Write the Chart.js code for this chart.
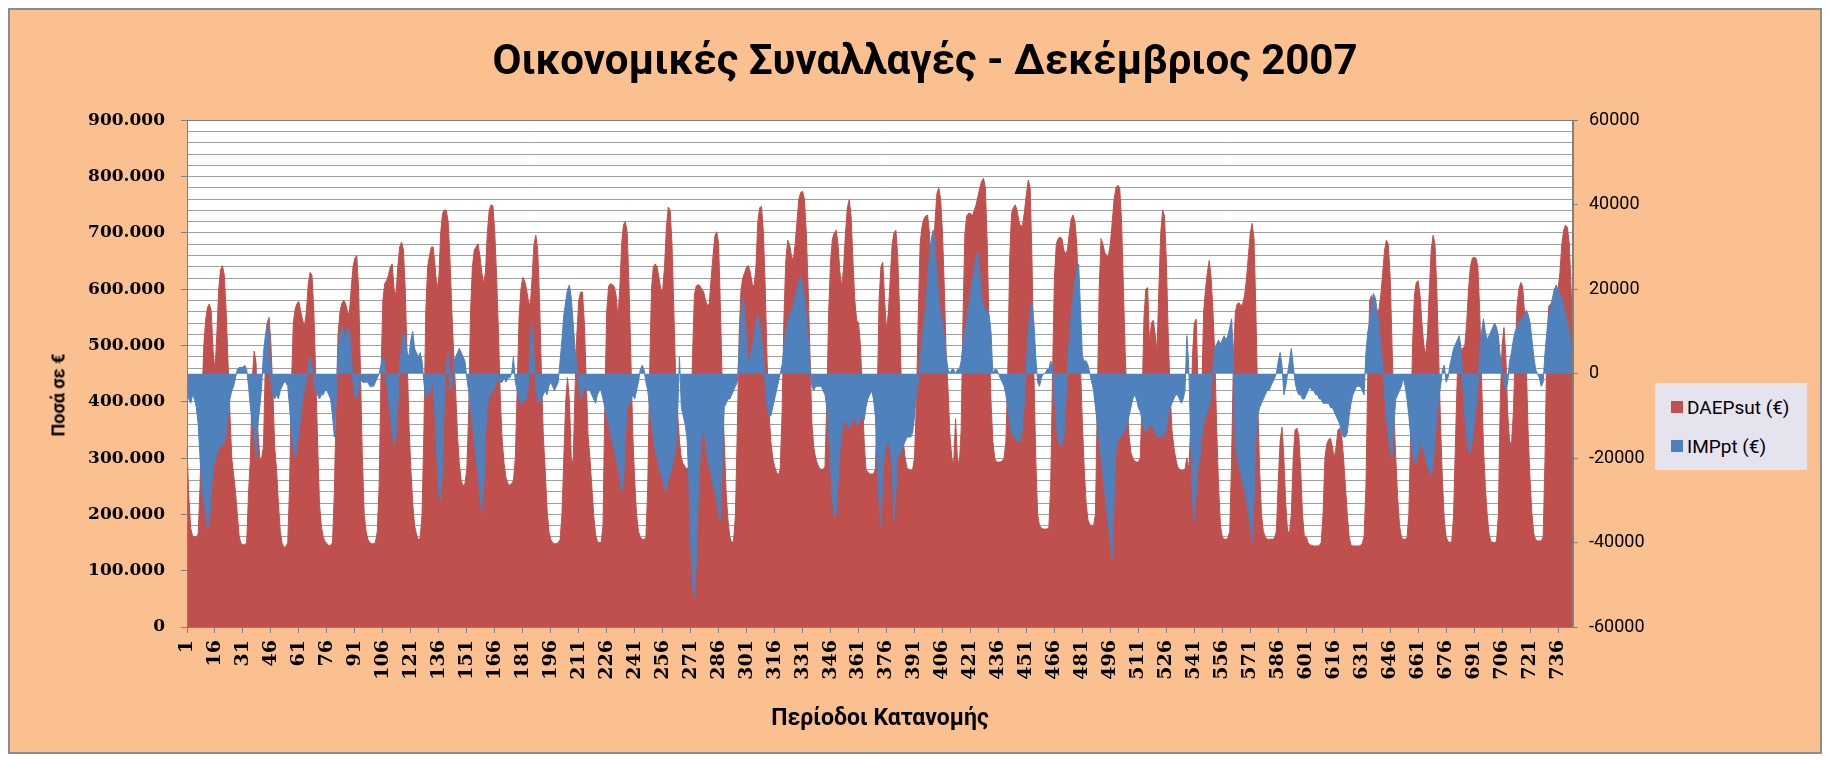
<!DOCTYPE html>
<html lang="el">
<head>
<meta charset="utf-8">
<title>Οικονομικές Συναλλαγές - Δεκέμβριος 2007</title>
<script src="https://cdn.jsdelivr.net/npm/chart.js@4.4.1/dist/chart.umd.min.js"></script>
<style>
  html, body { margin: 0; padding: 0; background: #ffffff; }
  #frame {
    position: absolute;
    left: 8px; top: 8px;
    width: 1810px; height: 742px;
    background: #FAC090;
    border: 2px solid #8c8c8c;
  }
  #chart { display: block; }
  #ytitle {
    position: absolute;
    left: 48px; top: 385px;
    transform: translate(-50%, -50%) rotate(-90deg);
    font: bold 18px Roboto, sans-serif;
    color: #000;
    white-space: nowrap;
  }
  #legend {
    position: absolute;
    left: 1645px; top: 373px;
    width: 136px; height: 74px;
    padding: 13px 0 0 16px;
    background: #E5E3EE;
    font: 19px Roboto, sans-serif;
    color: #000;
  }
  #legend .item { display: flex; align-items: center; height: 22px; margin-bottom: 17px; white-space: nowrap; }
  #legend .swatch { width: 12px; height: 12px; margin-right: 4px; }
</style>
</head>
<body>
<div id="frame">
  <canvas id="chart" width="1810" height="742"></canvas>
  <div id="ytitle">Ποσά σε €</div>
  <div id="legend"></div>
</div>
<script>
// hourly values for 1-31 December, one row per day, in thousand €
const daepsut = [
  320,230,175,162,160,160,165,250,400,500,545,568,574,560,490,455,520,600,635,642,625,560,470,380,
  300,270,240,200,160,148,146,146,150,240,300,440,490,470,350,300,300,320,470,540,550,500,420,320,
  280,220,170,148,142,142,150,250,430,540,565,575,578,560,545,535,560,610,630,625,560,450,330,220,
  180,160,152,148,145,145,150,240,400,520,560,575,580,575,560,555,600,640,655,660,600,450,300,200,
  170,155,150,148,148,150,170,250,450,580,610,615,625,640,645,600,590,640,675,684,670,600,480,360,
  280,220,180,165,155,158,200,350,560,640,660,675,675,640,600,620,700,735,741,740,720,650,560,480,
  420,340,290,260,250,255,280,380,560,640,670,675,681,660,630,610,630,700,740,750,748,700,620,520,
  400,330,290,265,255,252,255,260,300,420,550,600,621,615,600,580,570,620,680,696,670,580,450,340,
  280,210,170,155,150,148,148,150,155,200,300,400,443,400,300,290,420,520,580,595,595,540,440,340,
  300,250,200,165,152,150,150,180,400,560,605,610,608,605,590,550,600,680,715,720,700,600,470,340,
  260,200,170,160,156,156,158,250,450,600,640,645,640,620,600,598,640,710,746,740,680,560,440,380,
  330,300,290,285,280,285,350,480,590,606,608,606,600,595,580,570,575,620,660,695,702,680,560,420,
  330,240,190,160,150,152,200,350,520,600,621,630,640,642,630,610,604,640,720,745,747,700,600,470,
  380,330,300,285,275,270,280,380,550,650,687,680,660,650,680,720,760,772,774,760,700,600,480,360,
  320,300,290,282,280,280,285,400,560,650,690,700,705,680,630,604,640,700,745,759,730,650,580,545,
  540,500,420,330,280,275,272,272,272,280,400,580,640,648,580,526,560,620,680,700,705,660,560,420,
  330,300,282,280,278,280,300,400,550,680,711,725,730,732,700,615,650,720,770,780,760,700,600,480,
  420,340,300,290,370,300,288,350,550,700,730,735,735,730,740,750,765,780,792,797,780,680,520,400,
  330,300,293,293,293,295,300,330,450,650,735,745,750,740,720,711,715,740,770,794,780,650,450,300,
  200,180,176,174,174,174,176,250,450,620,680,690,693,690,670,663,670,700,725,732,720,680,580,460,
  360,280,220,190,182,180,180,200,400,600,690,680,665,660,660,680,720,760,780,785,780,720,600,480,
  400,340,310,300,295,293,293,300,400,550,600,603,502,540,545,520,490,600,700,741,730,650,520,420,
  350,320,300,285,280,278,278,280,300,280,350,480,540,547,430,300,420,560,600,630,651,620,560,480,
  350,250,180,160,156,156,158,170,300,480,560,574,576,570,575,590,620,660,700,717,690,560,400,280,
  200,170,160,156,156,156,156,158,170,260,330,355,300,220,170,168,200,300,350,353,340,280,200,160,
  160,150,146,145,144,144,144,145,150,200,300,325,333,335,320,300,320,350,353,340,300,250,200,160,
  145,144,144,144,144,145,148,160,250,450,580,589,570,565,560,565,590,630,670,687,680,620,500,380,
  300,230,180,160,156,156,158,200,350,500,590,612,615,590,540,500,484,520,600,670,696,680,600,480,
  360,260,190,160,152,150,152,200,330,450,490,493,495,500,540,600,640,655,657,655,640,560,440,320,
  250,200,165,152,150,150,152,200,400,500,532,480,380,330,323,380,480,570,600,612,605,560,460,340,
  260,200,165,155,153,153,153,160,300,500,570,574,575,580,592,600,630,680,705,714,710,680,600,480
];

const impt = [
  -3,-6,-7,-5,-6,-8,-12,-20,-27,-30,-33,-37,-35,-28,-22,-21,-19,-18,-17,-17,-16,-14,-10,-6,
  -4,-3,-1,1,1.5,1.5,1.5,2,1,-3,-8,-12,-14,-20,-12,-8,-3,5,9,12,8,-2,-5,-6,
  -5,-6,-4,-3,-2,-2,-3,-8,-14,-18,-20,-17,-14,-10,-6,-4,-2,2,4,2,-2,-4,-5,-6,
  -5,-5,-4,-4,-5,-6,-10,-15,-5,5,9,11,10,8,11,10,5,-2,-5,-6,-4,-1,-2,-2,
  -2,-2,-3,-3,-3,-2,-1,0,2,4,3,-2,-6,-10,-14,-17,-15,-8,2,6,10,8,5,4,
  8,10,6,5,4,5,3,-2,-6,-4,-5,-3,-2,-10,-20,-28,-30,-22,-5,2,5,-4,-3,3,
  4,5,6,5,4,3,-1,-4,-8,-12,-16,-20,-24,-28,-33,-28,-15,-8,-5,-5,-4,-3,-2,-1,
  -2,-2,-1,-2,-1,-1,0,4,-2,-4,-6,-7,-7,-6,-6,-3,8,12,4,-4,-6,-7,-6,-5,
  -4,-5,-3,-2,-3,-4,-3,-2,3,8,14,17,20,21,18,12,6,2,-3,-6,-5,-3,-4,-4,
  -4,-5,-6,-7,-5,-4,-4,-6,-8,-10,-12,-14,-16,-18,-20,-22,-25,-28,-26,-15,-8,-7,-6,-5,
  -6,-4,-2,1,2,1,-2,-4,-8,-12,-15,-18,-20,-22,-24,-25,-27,-28,-25,-24,-22,-20,-18,-10,
  4,-8,-10,-12,-15,-25,-40,-50,-53,-45,-30,-20,-15,-13,-16,-20,-22,-24,-26,-28,-30,-33,-35,-20,
  -8,-7,-6,-6,-5,-4,-3,-2,6,14,18,15,8,2,4,6,9,12,14,12,8,4,-3,-8,
  -10,-10,-8,-6,-4,-2,0,2,6,10,12,14,15,16,18,20,22,23,21,18,14,8,2,-3,
  -4,-3,-3,-3,-3,-4,-5,-8,-14,-22,-30,-34,-33,-26,-18,-14,-12,-11,-12,-13,-12,-11,-10,-12,
  -12,-11,-10,-11,-8,-6,-5,-4,-6,-10,-22,-30,-36,-25,-18,-17,-16,-18,-22,-35,-28,-20,-19,-18,
  -17,-16,-15,-15,-15,-14,-10,-5,-2,3,8,12,16,22,28,32,34,30,24,18,14,12,8,4,
  1,0,1,1,0,1,1,3,7,10,13,16,19,22,25,27,29,24,18,16,15,15,14,10,
  0,1,1,0,-1,-2,-3,-5,-8,-12,-14,-15,-15,-16,-16,-16,-12,-6,2,10,15,17,12,4,
  -2,-3,-1,0,0,1,1,3,2,-5,-12,-16,-17,-17,-15,-8,2,8,14,18,22,25,26,15,
  4,3,3,2,0,-2,-4,-8,-12,-16,-20,-24,-28,-32,-36,-40,-44,-30,-18,-16,-15,-15,-14,-13,
  -12,-10,-8,-6,-5,-6,-8,-9,-11,-13,-14,-13,-12,-12,-13,-14,-15,-15,-15,-14,-15,-13,-10,-8,
  -7,-6,-5,-5,-6,-7,-6,-4,9,2,-15,-30,-35,-28,-22,-20,-15,-12,-10,-9,-8,-5,2,6,
  7,8,7,8,9,8,9,11,13,4,-17,-20,-22,-24,-26,-28,-30,-33,-36,-40,-30,-15,-10,-8,
  -7,-6,-5,-4,-4,-3,-2,-1,0,3,5,2,-5,-3,0,3,6,2,-2,-4,-5,-5,-6,-6,
  -5,-4,-3,-4,-4,-5,-5,-6,-6,-7,-7,-7,-7,-8,-8,-9,-10,-11,-12,-14,-15,-15,-14,-10,
  -7,-5,-4,-3,-3,-3,-4,-5,5,10,12,16,19,18,15,12,6,2,-5,-10,-15,-18,-20,-12,
  -6,-5,-4,-3,-1,-3,-6,-10,-15,-19,-21,-21,-19,-17,-17,-18,-20,-22,-23,-24,-22,-16,-10,-6,
  -3,1,2,-2,-1,2,4,6,7,8,9,6,-3,-10,-15,-18,-19,-16,-12,-8,-3,5,10,13,
  10,8,9,10,11,12,11,9,4,1,-2,-4,-2,3,5,8,10,11,12,13,13,14,15,14,
  12,8,4,1,0,-1,-3,-2,5,10,14,16,18,20,21,20,19,18,16,14,12,10,6,1
];

// period numbers 1..744 along the category axis
const periods = daepsut.map((_, i) => String(i + 1));

const seriesNames = ['DAEPsut (€)', 'IMPpt (€)'];
const seriesColors = ['#C0504D', '#4F81BD'];

const LABEL_EVERY = 15;
const axisGrey = '#7f7f7f';

function greekThousands(v) {
  return String(v).replace(/\B(?=(\d{3})+(?!\d))/g, '.');
}

// white plot background and the frame line along its top
const plotFrame = {
  id: 'plotFrame',
  beforeDraw(chart) {
    const { ctx, chartArea: a } = chart;
    ctx.save();
    ctx.fillStyle = '#ffffff';
    ctx.fillRect(a.left, a.top, a.right - a.left, a.bottom - a.top);
    ctx.restore();
  },
  afterDraw(chart) {
    const { ctx, chartArea: a } = chart;
    ctx.save();
    ctx.strokeStyle = axisGrey;
    ctx.lineWidth = 1;
    ctx.strokeRect(Math.round(a.left) + 0.5, Math.round(a.top) + 0.5,
      Math.round(a.right - a.left) - 1, Math.round(a.bottom - a.top));
    ctx.restore();
  }
};

const chart = new Chart(document.getElementById('chart'), {
  type: 'line',
  data: {
    labels: periods,
    datasets: [
      {
        label: seriesNames[0],
        data: daepsut.map(v => v * 1000),
        yAxisID: 'y',
        backgroundColor: seriesColors[0],
        borderColor: seriesColors[0],
        borderWidth: 1,
        fill: 'origin',
        order: 1
      },
      {
        label: seriesNames[1],
        data: impt.map(v => v * 1000),
        yAxisID: 'y1',
        backgroundColor: seriesColors[1],
        borderColor: seriesColors[1],
        borderWidth: 1,
        fill: 'origin',
        order: 0
      }
    ]
  },
  options: {
    responsive: false,
    animation: false,
    events: [],
    layout: { padding: { left: 20, right: 0, top: 0, bottom: 0 } },
    elements: {
      point: { radius: 0 },
      line: { tension: 0 }
    },
    plugins: {
      legend: { display: false },
      tooltip: { enabled: false },
      title: {
        display: true,
        text: 'Οικονομικές Συναλλαγές - Δεκέμβριος 2007',
        color: '#000',
        font: { family: 'Roboto', size: 42, weight: 'bold' },
        padding: { top: 28, bottom: 32 }
      }
    },
    scales: {
      x: {
        type: 'category',
        offset: false,
        grid: {
          drawOnChartArea: false,
          tickLength: 6,
          tickColor: c => (c.index % LABEL_EVERY === 0 ? axisGrey : 'rgba(0,0,0,0)')
        },
        border: { color: axisGrey },
        ticks: {
          autoSkip: false,
          maxRotation: 90,
          minRotation: 90,
          padding: 7,
          color: '#000',
          font: { family: 'DejaVu Serif', size: 19, weight: 'bold' },
          callback(value, index) {
            return index % LABEL_EVERY === 0 ? this.getLabelForValue(value) : '';
          }
        },
        title: {
          display: true,
          text: 'Περίοδοι Κατανομής',
          color: '#000',
          font: { family: 'Roboto', size: 23, weight: 'bold' },
          padding: { top: 0, bottom: 19 }
        },
        afterFit(scale) { scale.height = 125; }
      },
      y: {
        position: 'left',
        min: 0,
        max: 900000,
        grid: {
          color: '#a0a0a0',
          tickLength: 6,
          tickColor: c => (c.tick && c.tick.value % 100000 === 0 ? axisGrey : 'rgba(0,0,0,0)')
        },
        border: { color: axisGrey },
        ticks: {
          stepSize: 20000,
          autoSkip: false,
          padding: 16,
          color: '#000',
          font: { family: 'DejaVu Serif', size: 17, weight: 'bold' },
          callback: v => (v % 100000 === 0 ? greekThousands(v) : '')
        },
        afterFit(scale) { scale.width = 157; }
      },
      y1: {
        position: 'right',
        min: -60000,
        max: 60000,
        grid: { drawOnChartArea: false, tickLength: 5, tickColor: axisGrey },
        border: { color: axisGrey },
        ticks: {
          stepSize: 20000,
          padding: 11,
          color: '#000',
          font: { family: 'Roboto', size: 18 },
          callback: v => String(v)
        },
        afterFit(scale) { scale.width = 247; }
      }
    }
  },
  plugins: [plotFrame]
});

// legend box, in series order
const legendBox = document.getElementById('legend');
chart.data.datasets.forEach(ds => {
  const item = document.createElement('div');
  item.className = 'item';
  const swatch = document.createElement('span');
  swatch.className = 'swatch';
  swatch.style.background = ds.backgroundColor;
  const text = document.createElement('span');
  text.textContent = ds.label;
  item.appendChild(swatch);
  item.appendChild(text);
  legendBox.appendChild(item);
});
</script>
</body>
</html>
